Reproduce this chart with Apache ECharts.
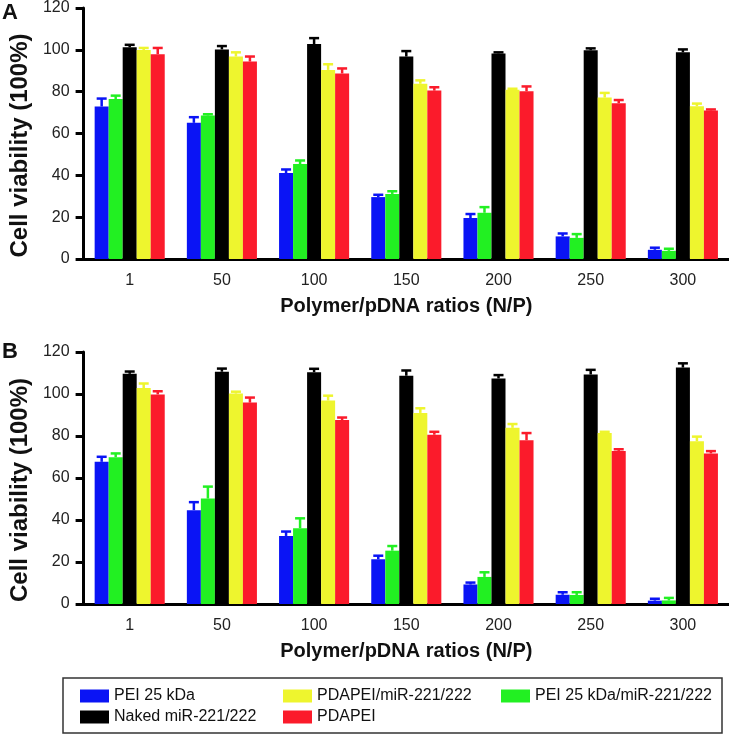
<!DOCTYPE html>
<html>
<head>
<meta charset="utf-8">
<script src="https://cdn.jsdelivr.net/npm/echarts@6/dist/echarts.min.js"></script>
<style>
html,body{margin:0;padding:0;background:#fff;}
#chart{width:729px;height:735px;}
</style>
</head>
<body>
<div id="chart"></div>
<script>
// ---- Data ----
var categories = ['1', '50', '100', '150', '200', '250', '300'];
var seriesNames = ['PEI 25 kDa', 'PEI 25 kDa/miR-221/222', 'Naked miR-221/222', 'PDAPEI/miR-221/222', 'PDAPEI'];
var yTicks = [0, 20, 40, 60, 80, 100, 120];

// Panel A: means
var A_pei       = [72.9, 65.1, 41.1, 29.6, 19.6, 10.8, 4.4];
var A_peiMir    = [76.5, 68.6, 45.4, 31.1, 22.1, 10.1, 3.9];
var A_naked     = [101.2, 100.2, 102.8, 96.8, 98.3, 99.8, 98.8];
var A_pdapeiMir = [99.9, 96.8, 90.4, 83.8, 80.9, 77.2, 73.0];
var A_pdapei    = [97.9, 94.4, 88.7, 80.5, 80.2, 74.5, 71.0];
// Panel A: errors (SD)
var A_peiErr       = [3.8, 2.7, 1.7, 1.1, 1.9, 1.4, 1.0];
var A_peiMirErr    = [1.6, 0.6, 1.7, 1.3, 2.7, 1.8, 1.0];
var A_nakedErr     = [1.2, 1.6, 2.8, 2.6, 0.5, 0.9, 1.4];
var A_pdapeiMirErr = [1.0, 2.0, 2.7, 1.6, 0.5, 2.2, 1.3];
var A_pdapeiErr    = [3.0, 2.4, 2.4, 1.6, 2.3, 1.5, 0.5];

// Panel B: means
var B_pei       = [67.7, 44.7, 32.4, 21.3, 9.3, 4.4, 1.6];
var B_peiMir    = [69.9, 50.2, 36.1, 25.4, 12.9, 4.3, 1.7];
var B_naked     = [109.6, 110.6, 110.4, 108.7, 107.4, 109.3, 112.6];
var B_pdapeiMir = [102.8, 100.2, 96.9, 91.0, 83.9, 81.4, 77.5];
var B_pdapei    = [99.8, 95.9, 87.6, 80.6, 78.0, 72.9, 71.7];
// Panel B: errors
var B_peiErr       = [2.4, 3.8, 2.1, 1.7, 0.9, 1.2, 0.9];
var B_peiMirErr    = [1.8, 5.7, 4.7, 2.2, 2.2, 1.3, 1.2];
var B_nakedErr     = [1.1, 1.5, 1.6, 2.5, 1.6, 2.2, 2.0];
var B_pdapeiMirErr = [2.2, 0.9, 2.3, 2.2, 1.8, 0.6, 2.2];
var B_pdapeiErr    = [1.5, 2.4, 1.2, 1.4, 3.4, 0.8, 1.1];

var colors = ['#0a14f5', '#22f022', '#000000', '#eef52e', '#fb1b2b'];

// ---- Build ----
var FONT = '"Liberation Sans", Arial, sans-serif';
var panels = [
  { means: [A_pei, A_peiMir, A_naked, A_pdapeiMir, A_pdapei],
    errs:  [A_peiErr, A_peiMirErr, A_nakedErr, A_pdapeiMirErr, A_pdapeiErr] },
  { means: [B_pei, B_peiMir, B_naked, B_pdapeiMir, B_pdapei],
    errs:  [B_peiErr, B_peiMirErr, B_nakedErr, B_pdapeiMirErr, B_pdapeiErr] }
];
var GAP = 0.24;
var N = seriesNames.length;

var grids = [
  { left: 70, right: -1, top: 6, height: 253 },
  { left: 70, right: -1, top: 352, height: 252 }
];

function makeXAxis(i) {
  return {
    type: 'category', gridIndex: i, data: categories,
    name: 'Polymer/pDNA ratios (N/P)', nameLocation: 'middle', nameGap: 37,
    nameTextStyle: { fontFamily: FONT, fontSize: 20, fontWeight: 'bold', color: '#111' },
    axisLine: { lineStyle: { color: '#000', width: 3 } },
    axisTick: { alignWithLabel: true, length: 8, lineStyle: { color: '#000', width: 3 } },
    axisLabel: { fontFamily: FONT, fontSize: 16, color: '#222', margin: 14 },
    splitLine: { show: false }
  };
}
function makeYAxis(i) {
  return {
    type: 'value', gridIndex: i, min: yTicks[0], max: yTicks[yTicks.length - 1], interval: 20,
    name: 'Cell viability (100%)', nameLocation: 'middle', nameGap: 44, nameRotate: 90,
    nameTextStyle: { fontFamily: FONT, fontSize: 24, fontWeight: 'bold', color: '#111', padding: [0, 24, 0, 0] },
    axisLine: { show: true, lineStyle: { color: '#000', width: 3 } },
    axisTick: { show: true, length: 8, lineStyle: { color: '#000', width: 3 } },
    axisLabel: { fontFamily: FONT, fontSize: 16, color: '#222', margin: 14 },
    splitLine: { show: false }
  };
}

var series = [];
panels.forEach(function (p, pi) {
  for (var s = 0; s < N; s++) {
    series.push({
      type: 'bar', name: seriesNames[s], xAxisIndex: pi, yAxisIndex: pi,
      data: p.means[s], barGap: '0%', barCategoryGap: (GAP * 100) + '%',
      itemStyle: { color: colors[s] }, z: 2
    });
  }
  for (var s2 = 0; s2 < N; s2++) {
    (function (sIdx) {
      var d = p.means[sIdx].map(function (v, k) { return [k, v, p.errs[sIdx][k]]; });
      series.push({
        type: 'custom', name: seriesNames[sIdx] + ' err', xAxisIndex: pi, yAxisIndex: pi,
        data: d, z: 3, silent: true,
        renderItem: function (params, api) {
          var k = api.value(0), v = api.value(1), e = api.value(2);
          var band = api.size([1, 0])[0];
          var barW = band * (1 - GAP) / N;
          var base = api.coord([k, v]);
          var top = api.coord([k, v + e]);
          var cx = base[0] - band * (1 - GAP) / 2 + (sIdx + 0.5) * barW;
          var st = { stroke: colors[sIdx], lineWidth: 2.5 };
          return { type: 'group', children: [
            { type: 'line', shape: { x1: cx, y1: base[1], x2: cx, y2: top[1] }, style: st },
            { type: 'line', shape: { x1: cx - 5, y1: top[1], x2: cx + 5, y2: top[1] }, style: st }
          ] };
        }
      });
    })(s2);
  }
});

function legendCol(left, names) {
  return {
    orient: 'vertical', left: left, top: 683, data: names.map(function (n) { return { name: n, icon: 'rect' }; }),
    itemWidth: 29, itemHeight: 13, itemGap: 5, selectedMode: false,
    textStyle: { fontFamily: FONT, fontSize: 16, color: '#111' }
  };
}

var option = {
  animation: false,
  backgroundColor: '#fff',
  grid: grids,
  xAxis: [makeXAxis(0), makeXAxis(1)],
  yAxis: [makeYAxis(0), makeYAxis(1)],
  legend: [
    legendCol(75, [seriesNames[0], seriesNames[2]]),
    legendCol(278, [seriesNames[3], seriesNames[4]]),
    legendCol(496, [seriesNames[1]])
  ],
  graphic: [
    { type: 'rect', shape: { x: 63, y: 678, width: 659, height: 55 }, style: { fill: 'none', stroke: '#333', lineWidth: 1.5 } },
    { type: 'text', left: 2, top: 2, style: { text: 'A', font: 'bold 22px ' + FONT, fill: '#111' } },
    { type: 'text', left: 2, top: 341, style: { text: 'B', font: 'bold 22px ' + FONT, fill: '#111' } }
  ],
  series: series
};

var chart = echarts.init(document.getElementById('chart'), null, { renderer: 'canvas' });
chart.setOption(option);
</script>
</body>
</html>
